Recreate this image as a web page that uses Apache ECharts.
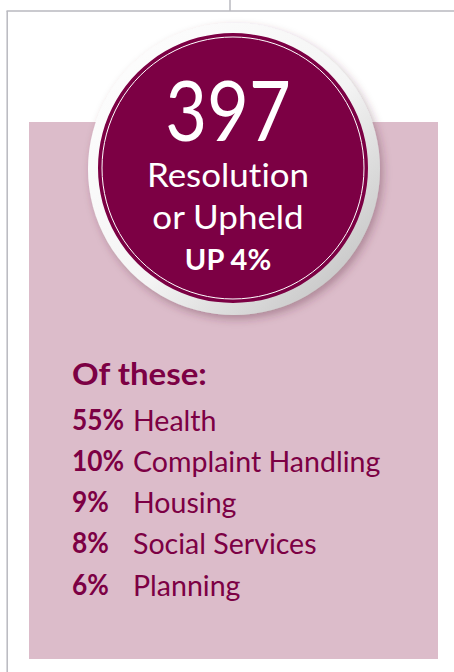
<!DOCTYPE html>
<html>
<head>
<meta charset="utf-8">
<script src="https://cdn.jsdelivr.net/npm/echarts@6/dist/echarts.min.js"></script>
<style>
html,body{margin:0;padding:0;background:#fff;}
#main{width:454px;height:672px;}
#main text{font-variant-ligatures:none !important;font-feature-settings:"liga" 0,"clig" 0 !important;}
</style>
</head>
<body>
<div id="main"></div>
<script>
// Data
const headlineValue = 397;
const headlineLabel = ['Resolution', 'or Upheld'];
const changeLabel = 'UP 4%';
const listTitle = 'Of these:';
const categories = ['Health', 'Complaint Handling', 'Housing', 'Social Services', 'Planning'];
const shares = [55, 10, 9, 8, 6];

const MAROON = '#7C0044';
const PINK = '#DCBCCA';
const LINE = '#B9B9BF';
const FONT = 'Lato';

const chart = echarts.init(document.getElementById('main'), null, {renderer: 'svg'});

const cx = 233, cy = 168, R = 135;
const tx = 228;
// y for text whose baseline should sit at b, with verticalAlign bottom
function by(b, size) { return b + 0.165 * size; }

const elements = [
  // frame lines
  {type: 'line', shape: {x1: 230, y1: 0, x2: 230, y2: 11}, style: {stroke: LINE, lineWidth: 1.5}},
  {type: 'line', shape: {x1: 6.5, y1: 11, x2: 454, y2: 11}, style: {stroke: LINE, lineWidth: 1.5}},
  {type: 'line', shape: {x1: 7.2, y1: 11, x2: 7.2, y2: 672}, style: {stroke: LINE, lineWidth: 1.5}},
  // pink panel
  {type: 'rect', shape: {x: 29, y: 122, width: 409, height: 537}, style: {fill: PINK}},
  // outer white ring with shading
  {type: 'circle', shape: {cx: cx + 1, cy: cy + 1, r: R + 11},
    style: {
      fill: new echarts.graphic.LinearGradient(0, 0, 1, 1, [
        {offset: 0, color: '#ffffff'},
        {offset: 0.55, color: '#f4f4f4'},
        {offset: 1, color: '#b8b8b8'}
      ]),
      shadowBlur: 8, shadowOffsetX: 3, shadowOffsetY: 4, shadowColor: 'rgba(90,40,60,0.35)'
    }},
  {type: 'circle', shape: {cx: cx, cy: cy, r: R}, style: {fill: MAROON}},
  {type: 'circle', shape: {cx: cx, cy: cy, r: R - 4}, style: {fill: 'none', stroke: '#ffffff', lineWidth: 1}},
  // headline
  {type: 'text', x: tx, y: by(137, 84), scaleX: 0.86, style: {text: String(headlineValue), fill: '#fff', font: '400 84px ' + FONT, textAlign: 'center', textVerticalAlign: 'bottom'}},
  {type: 'text', x: tx, y: by(185, 33), scaleX: 1.06, style: {text: headlineLabel[0], fill: '#fff', font: '400 33px ' + FONT, textAlign: 'center', textVerticalAlign: 'bottom'}},
  {type: 'text', x: tx, y: by(227, 33), scaleX: 1.06, style: {text: headlineLabel[1], fill: '#fff', font: '400 33px ' + FONT, textAlign: 'center', textVerticalAlign: 'bottom'}},
  {type: 'text', x: tx, y: by(268, 29), style: {text: changeLabel, fill: '#fff', font: '700 29px ' + FONT, textAlign: 'center', textVerticalAlign: 'bottom'}},
  // list title
  {type: 'text', x: 72, y: by(384, 30), scaleX: 1.1, style: {text: listTitle, fill: MAROON, font: '700 30px ' + FONT, textVerticalAlign: 'bottom'}}
];

const baselines = [429, 470, 511, 552, 594];
categories.forEach((c, i) => {
  elements.push({type: 'text', x: 72, y: by(baselines[i], 28), scaleX: 0.94, style: {text: shares[i] + '%', fill: MAROON, font: '700 28px ' + FONT, textVerticalAlign: 'bottom'}});
  elements.push({type: 'text', x: 133, y: by(baselines[i], 28), scaleX: 1.02, style: {text: c, fill: MAROON, font: '400 28px ' + FONT, textVerticalAlign: 'bottom'}});
});

chart.setOption({
  animation: false,
  graphic: {elements: elements}
});
</script>
</body>
</html>
